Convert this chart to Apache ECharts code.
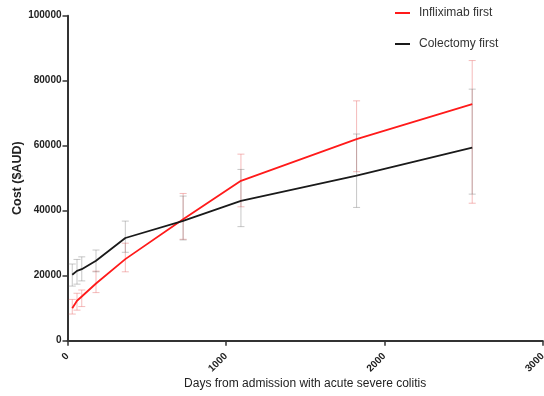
<!DOCTYPE html>
<html>
<head>
<meta charset="utf-8">
<script src="https://cdn.jsdelivr.net/npm/echarts@6/dist/echarts.min.js"></script>
<style>html,body{margin:0;padding:0;background:#fff;}#c{width:544px;height:396px;}</style>
</head>
<body>
<div id="c"></div>
<script>
const days = [30, 60, 90, 180, 365, 730, 1095, 1825, 2555];
const inflixMean = [10000, 12300, 13600, 17600, 25100, 37400, 49200, 62000, 72800];
const inflixLow  = [8200, 9400, 10500, 14800, 21200, 31200, 41200, 52000, 42300];
const inflixHigh = [12700, 14600, 15600, 21400, 30000, 45300, 57400, 73800, 86200];
const colecMean = [20300, 21500, 22000, 24600, 31600, 36900, 43000, 50800, 59400];
const colecLow  = [16800, 17400, 18400, 21200, 27200, 31000, 35100, 41000, 45100];
const colecHigh = [23600, 25000, 25800, 27900, 36800, 44500, 52700, 63600, 77400];
const xTicks = [0, 1000, 2000, 3000];
const yTicks = [0, 20000, 40000, 60000, 80000, 100000];

function errSeries(name, low, high, color) {
  return {
    type: 'custom', name: name, z: 1,
    data: days.map((d, i) => [d, low[i], high[i]]),
    encode: { x: 0, y: [1, 2] },
    renderItem: function (params, api) {
      const x = api.value(0), lo = api.value(1), hi = api.value(2);
      const p1 = api.coord([x, hi]), p2 = api.coord([x, lo]);
      const w = 3.5;
      const st = { stroke: color, lineWidth: 1 };
      return { type: 'group', children: [
        { type: 'line', shape: { x1: p1[0], y1: p1[1], x2: p2[0], y2: p2[1] }, style: st },
        { type: 'line', shape: { x1: p1[0] - w, y1: p1[1], x2: p1[0] + w, y2: p1[1] }, style: st },
        { type: 'line', shape: { x1: p2[0] - w, y1: p2[1], x2: p2[0] + w, y2: p2[1] }, style: st }
      ]};
    }
  };
}

const chart = echarts.init(document.getElementById('c'), null, { renderer: 'canvas' });
const FF = 'Liberation Sans, Arial, sans-serif';
const axisLabelStyle = { color: '#222', fontWeight: 'bold', fontSize: 10, fontFamily: FF, formatter: v => String(v) };
chart.setOption({
  animation: false,
  backgroundColor: '#fff',
  grid: { left: 67.5, right: 1.3, top: 15.7, bottom: 55.3, containLabel: false, outerBoundsMode: 'none' },
  legend: {
    data: ['Infliximab first', 'Colectomy first'],
    orient: 'vertical', left: 390, top: 2,
    icon: 'rect', itemWidth: 15, itemHeight: 2, itemGap: 19,
    textStyle: { color: '#333', fontSize: 12, fontFamily: FF, padding: [0, 0, 0, 4] }
  },
  xAxis: {
    type: 'value', min: xTicks[0], max: xTicks[xTicks.length - 1], interval: 1000,
    name: 'Days from admission with acute severe colitis', nameLocation: 'middle', nameGap: 37,
    nameMoveOverlap: false,
    nameTextStyle: { color: '#222', fontSize: 12, fontFamily: FF },
    axisLine: { lineStyle: { color: '#333', width: 2 } },
    axisTick: { show: true, length: 5, lineStyle: { color: '#333', width: 1.5 } },
    axisLabel: Object.assign({ rotate: 45, margin: 14 }, axisLabelStyle),
    splitLine: { show: false }
  },
  yAxis: {
    type: 'value', min: yTicks[0], max: yTicks[yTicks.length - 1], interval: 20000,
    name: 'Cost ($AUD)', nameLocation: 'middle', nameGap: 43,
    nameMoveOverlap: false,
    nameTextStyle: { color: '#222', fontSize: 12.5, fontWeight: 'bold', fontFamily: FF },
    axisLine: { show: true, lineStyle: { color: '#333', width: 2 } },
    axisTick: { show: true, length: 5, lineStyle: { color: '#333', width: 1.5 } },
    axisLabel: Object.assign({ margin: 6 }, axisLabelStyle),
    splitLine: { show: false }
  },
  series: [
    errSeries('errI', inflixLow, inflixHigh, 'rgba(235,120,120,0.5)'),
    errSeries('errC', colecLow, colecHigh, 'rgba(130,130,130,0.45)'),
    {
      name: 'Infliximab first', type: 'line', z: 3, symbol: 'none',
      data: days.map((d, i) => [d, inflixMean[i]]),
      lineStyle: { color: '#ff1a1a', width: 1.8 }, itemStyle: { color: '#ff1a1a' }
    },
    {
      name: 'Colectomy first', type: 'line', z: 3, symbol: 'none',
      data: days.map((d, i) => [d, colecMean[i]]),
      lineStyle: { color: '#1a1a1a', width: 1.8 }, itemStyle: { color: '#1a1a1a' }
    }
  ]
});
</script>
</body>
</html>
